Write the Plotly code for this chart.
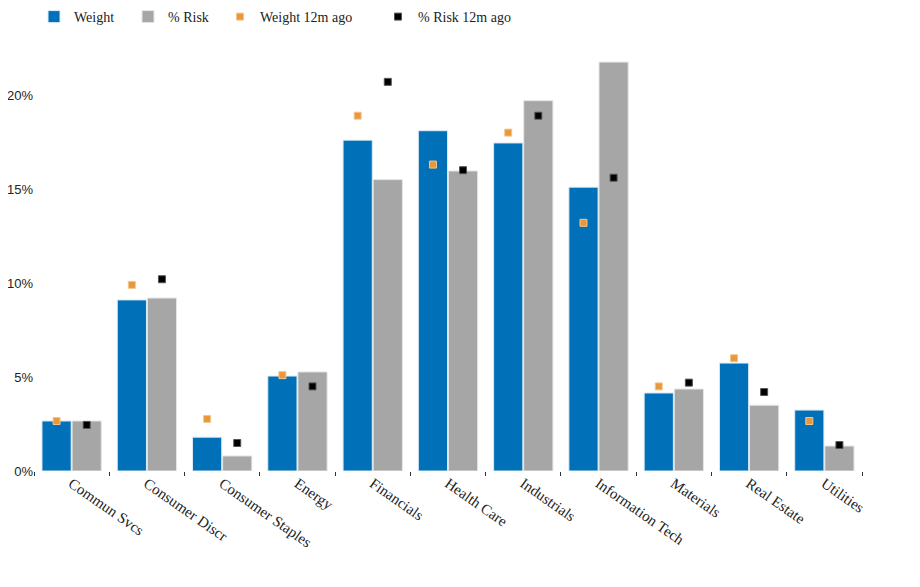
import plotly.graph_objects as go

# --- data ---
sectors = ["Commun Svcs", "Consumer Discr", "Consumer Staples", "Energy", "Financials",
           "Health Care", "Industrials", "Information Tech", "Materials", "Real Estate", "Utilities"]
weight = [2.66, 9.1, 1.8, 5.05, 17.6, 18.1, 17.45, 15.1, 4.15, 5.74, 3.24]
risk = [2.66, 9.2, 0.8, 5.27, 15.5, 15.96, 19.7, 21.75, 4.36, 3.5, 1.33]
weight_12m = [2.66, 9.9, 2.77, 5.1, 18.9, 16.3, 18.0, 13.2, 4.5, 6.0, 2.66]
risk_12m = [2.45, 10.2, 1.49, 4.5, 20.7, 16.0, 18.9, 15.6, 4.7, 4.2, 1.38]

BLUE = "#0070b8"
GRAY = "#a6a6a6"
ORANGE = "#e8973a"
BLACK = "#000000"

fig = go.Figure()
fig.add_trace(go.Bar(x=sectors, y=weight, name="Weight", offsetgroup="w", legend="legend",
                     marker=dict(color=BLUE, line=dict(color="#dbeaf5", width=1))))
fig.add_trace(go.Bar(x=sectors, y=risk, name="% Risk", offsetgroup="r", legend="legend2",
                     marker=dict(color=GRAY, line=dict(color="#e6e6e6", width=1))))
fig.add_trace(go.Scatter(x=sectors, y=weight_12m, name="Weight 12m ago", mode="markers",
                         offsetgroup="w", legend="legend3",
                         marker=dict(symbol="square", size=7, color=ORANGE,
                                     line=dict(color="#f5c58f", width=1))))
fig.add_trace(go.Scatter(x=sectors, y=risk_12m, name="% Risk 12m ago", mode="markers",
                         offsetgroup="r", legend="legend4",
                         marker=dict(symbol="square", size=7, color=BLACK,
                                     line=dict(color="#555555", width=1))))

# one legend per entry so the uneven spacing of the original can be kept
def leg(x):
    return dict(orientation="h", xref="container", yref="container", x=x, y=1 - 9 / 587,
                xanchor="left", yanchor="middle", font=dict(size=14), bgcolor="rgba(0,0,0,0)")

# the page adds an 8px body margin, so margins are shifted to compensate
fig.update_layout(
    width=920, height=587, showlegend=True,
    margin=dict(l=26, r=66, t=37, b=124, autoexpand=False),
    paper_bgcolor="white", plot_bgcolor="white",
    barmode="group", bargap=0.2, bargroupgap=0.03,
    scattermode="group", scattergap=0.2,
    font=dict(family="Liberation Serif, Times New Roman, serif", size=14, color="#222"),
    legend=leg(26 / 920), legend2=leg(120 / 920), legend3=leg(212 / 920), legend4=leg(370 / 920),
    xaxis=dict(showline=False, showgrid=False, tickangle=35, automargin=False,
               ticks="outside", tickson="boundaries", ticklen=4, tickwidth=1, tickcolor="#333",
               tickfont=dict(family="Liberation Serif, serif", size=15)),
    yaxis=dict(range=[0, 22.66], tickvals=[0, 5, 10, 15, 20],
               ticktext=["0%", "5%", "10%", "15%", "20%"], automargin=False,
               showgrid=False, showline=False, zeroline=False, ticks="",
               tickfont=dict(family="Liberation Sans, Arial, sans-serif", size=13, color="#222")),
)

fig.write_html("out.html")
